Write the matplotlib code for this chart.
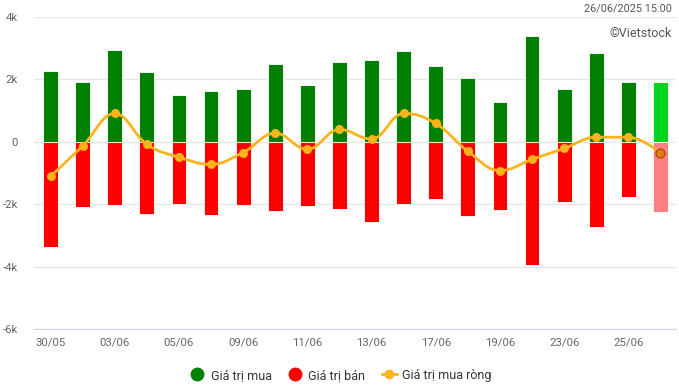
import numpy as np
import matplotlib.pyplot as plt
from matplotlib.path import Path
from matplotlib.patches import PathPatch
from matplotlib.lines import Line2D
from matplotlib.ticker import FuncFormatter

plt.rcParams['font.family'] = ['Roboto', 'DejaVu Sans']

# -------- data (ty dong) ----------
dates = ["30/05", "02/06", "03/06", "04/06", "05/06", "06/06", "09/06", "10/06", "11/06", "12/06",
         "13/06", "16/06", "17/06", "18/06", "19/06", "20/06", "23/06", "24/06", "25/06", "26/06"]
buy  = [2270, 1910, 2930, 2240, 1490, 1620, 1680, 2480, 1810, 2560,
        2610, 2900, 2420, 2040, 1270, 3380, 1680, 2840, 1910, 1910]
sell = [-3370, -2090, -2020, -2310, -1990, -2350, -2020, -2220, -2060, -2150,
        -2570, -1990, -1830, -2380, -2190, -3950, -1930, -2730, -1770, -2250]
net  = [-1100, -130, 910, -80, -490, -720, -340, 280, -240, 400,
        90, 910, 590, -300, -920, -560, -210, 150, 150, -340]

GREEN, RED, ORANGE = "#008000", "#ff0000", "#ffb31a"
x = np.arange(len(dates))

fig = plt.figure(figsize=(6.79, 3.86), dpi=100)
ax = fig.add_axes([0.0508, 0.147, 0.9455, 0.809])

buy_colors = [GREEN] * (len(x) - 1) + ["#00d41f"]
sell_colors = [RED] * (len(x) - 1) + ["#ff8080"]
ax.bar(x, buy, width=0.46, color=buy_colors, edgecolor="white", linewidth=0.6, zorder=2)
ax.bar(x, sell, width=0.46, color=sell_colors, edgecolor="white", linewidth=0.6, zorder=2)


# spline like highcharts (smoothing 1.5)
def spline_path(xs, ys):
    n = len(xs)
    verts = [(xs[0], ys[0])]
    codes = [Path.MOVETO]
    ctrl = []
    for i in range(n):
        if i == 0 or i == n - 1:
            ctrl.append(((xs[i], ys[i]), (xs[i], ys[i])))
            continue
        px, py = xs[i], ys[i]
        lx, ly = xs[i - 1], ys[i - 1]
        nx, ny = xs[i + 1], ys[i + 1]
        lcx, lcy = (1.5 * px + lx) / 2.5, (1.5 * py + ly) / 2.5
        rcx, rcy = (1.5 * px + nx) / 2.5, (1.5 * py + ny) / 2.5
        corr = (rcy - lcy) * (rcx - px) / (rcx - lcx) + py - rcy
        lcy += corr
        rcy += corr
        if lcy > ly and lcy > py:
            lcy = max(ly, py)
            rcy = 2 * py - lcy
        elif lcy < ly and lcy < py:
            lcy = min(ly, py)
            rcy = 2 * py - lcy
        if rcy > ny and rcy > py:
            rcy = max(ny, py)
            lcy = 2 * py - rcy
        elif rcy < ny and rcy < py:
            rcy = min(ny, py)
            lcy = 2 * py - rcy
        ctrl.append(((lcx, lcy), (rcx, rcy)))
    for i in range(1, n):
        verts += [ctrl[i - 1][1], ctrl[i][0], (xs[i], ys[i])]
        codes += [Path.CURVE4] * 3
    return Path(verts, codes)


ax.add_patch(PathPatch(spline_path(list(x), net), facecolor="none", edgecolor=ORANGE,
                       linewidth=2, zorder=3))
ax.scatter(x[:-1], net[:-1], s=42, color=ORANGE, zorder=4, linewidths=0)
ax.scatter(x[-1:], net[-1:], s=42, color="#f07a10", edgecolor="#8a4a10", linewidths=0.8, zorder=4)

ax.set_xlim(-0.5, len(x) - 0.5)
ax.set_ylim(-6000, 4000)
ax.set_yticks([-6000, -4000, -2000, 0, 2000, 4000])
ax.yaxis.set_major_formatter(FuncFormatter(lambda v, p: "0" if v == 0 else f"{int(v/1000)}k"))
ax.set_xticks(x[::2])
ax.set_xticklabels(dates[::2])
ax.tick_params(axis="y", length=0, pad=12, labelsize=8.2, labelcolor="#666666")
ax.tick_params(axis="x", length=0, pad=6, labelsize=8.2, labelcolor="#666666")
ax.grid(axis="y", color="#e6e6e6", linewidth=1, zorder=0)
ax.set_axisbelow(True)
for s in ["top", "right", "left"]:
    ax.spines[s].set_visible(False)
ax.spines["bottom"].set_color("#ccd6eb")
ax.spines["bottom"].set_position(("data", -6000))

fig.text(0.99, 0.977, "26/06/2025 15:00", ha="right", va="center", fontsize=7.8, color="#555555")
fig.text(0.99, 0.914, "©Vietstock", ha="right", va="center", fontsize=9, color="#555555")

handles = [
    Line2D([], [], marker="o", linestyle="none", color=GREEN, markersize=9),
    Line2D([], [], marker="o", linestyle="none", color=RED, markersize=9),
    Line2D([], [], marker="o", color=ORANGE, markersize=6, linewidth=2),
]
fig.legend(handles, ["Giá trị mua", "Giá trị bán", "Giá trị mua ròng"], loc="center",
           bbox_to_anchor=(0.502, 0.028), ncol=3, frameon=False, fontsize=9,
           handlelength=1.2, handletextpad=0.45, columnspacing=1.3, labelcolor="#333333")

plt.savefig("out.png", dpi=100)
